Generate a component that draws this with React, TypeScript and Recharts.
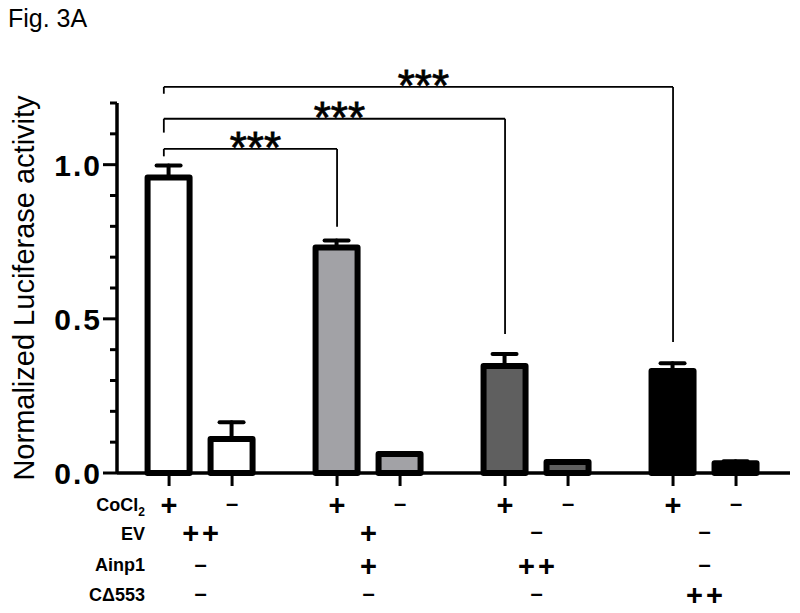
import React from "react";
import { BarChart, Bar, XAxis, YAxis, Cell, ErrorBar, ReferenceLine } from "recharts";

// bar positions on the x scale (pairs 3 apart, groups 8 apart)
const positions = [0, 3, 8, 11, 16, 19, 24, 27];
const values = [0.958, 0.11, 0.731, 0.062, 0.347, 0.036, 0.331, 0.032];
const errors = [0.039, 0.055, 0.023, 0, 0.039, 0, 0.025, 0.006];
const fills = ["#ffffff", "#ffffff", "#a2a2a6", "#a2a2a6", "#5f5f5f", "#5f5f5f", "#000000", "#000000"];

// treatment table under the axis
const cocl2Row = ["+", "–", "+", "–", "+", "–", "+", "–"];
const groupCenters = [1.5, 9.5, 17.5, 25.5];
const evRow = ["++", "+", "–", "–"];
const ainp1Row = ["–", "+", "++", "–"];
const cd553Row = ["–", "–", "–", "++"];
const LABEL_X = -1.15;

const yTicks = [0, 0.1, 0.2, 0.3, 0.4, 0.5, 0.6, 0.7, 0.8, 0.9, 1.0, 1.1, 1.2];
const yLabels = [0, 0.5, 1.0];

// significance brackets
const brackets = [
  { x1: -0.25, x2: 8, y: 1.051, yLeft: 1.027, yRight: 0.799 },
  { x1: -0.25, x2: 16, y: 1.149, yLeft: 1.104, yRight: 0.451 },
  { x1: -0.25, x2: 24, y: 1.252, yLeft: 1.23, yRight: 0.425 },
];

const data = positions.map((x, i) => ({ x, value: values[i], err: [0, errors[i]] }));

const FONT = "'Liberation Sans', Arial, sans-serif";

function Sym({ x, cy, s }: { x: number; cy: number; s: string }) {
  if (s === "–") {
    return (
      <text x={x} y={cy + 6} textAnchor="middle" fontSize={22} fontWeight="bold" fontFamily={FONT} fill="#000">
        –
      </text>
    );
  }
  const wide = s.length > 1;
  return (
    <text x={wide ? x + 1.5 : x} y={cy + 10} textAnchor="middle" fontSize={29} fontWeight="bold" fontFamily={FONT} fill="#000" letterSpacing={wide ? 3 : 0}>
      {s}
    </text>
  );
}

function XTick({ x, y, payload }: any) {
  const v = payload.value;
  const bi = positions.indexOf(v);
  if (bi >= 0) {
    return (
      <g>
        <line x1={x} x2={x} y1={y} y2={y + 13} stroke="#000" strokeWidth={3} />
        <Sym x={x} cy={y + 32} s={cocl2Row[bi]} />
      </g>
    );
  }
  const gi = groupCenters.indexOf(v);
  if (gi >= 0) {
    return (
      <g>
        <Sym x={x} cy={y + 60} s={evRow[gi]} />
        <Sym x={x} cy={y + 93} s={ainp1Row[gi]} />
        <Sym x={x} cy={y + 122} s={cd553Row[gi]} />
      </g>
    );
  }
  const style = { fontSize: 18, fontWeight: "bold" as const, fontFamily: FONT, fill: "#000" };
  return (
    <g>
      <text x={x} y={y + 38} textAnchor="end" {...style}>
        CoCl<tspan fontSize={12} dy={5}>2</tspan>
      </text>
      <text x={x} y={y + 67} textAnchor="end" {...style}>EV</text>
      <text x={x} y={y + 98} textAnchor="end" {...style}>Ainp1</text>
      <text x={x} y={y + 128} textAnchor="end" {...style}>CΔ553</text>
    </g>
  );
}

function YTick({ x, y, payload }: any) {
  const major = yLabels.includes(payload.value);
  return (
    <g>
      <line x1={x - (major ? 14 : 7)} x2={x} y1={y} y2={y} stroke="#000" strokeWidth={3} />
      {major && (
        <text x={x - 15} y={y + 11} textAnchor="end" fontSize={30} fontWeight="bold" fontFamily={FONT} fill="#000" letterSpacing={2}>
          {payload.value.toFixed(1)}
        </text>
      )}
    </g>
  );
}

function YTitle({ viewBox }: any) {
  const cx = 24;
  const cy = viewBox.y + viewBox.height / 2;
  return (
    <text x={cx} y={cy} transform={`rotate(-90 ${cx} ${cy})`} textAnchor="middle" dominantBaseline="central" fontSize={29} fontFamily={FONT} fill="#000">
      Normalized Luciferase activity
    </text>
  );
}

function Stars({ viewBox }: any) {
  return (
    <text x={viewBox.x + viewBox.width / 2 + 5} y={viewBox.y + 14} textAnchor="middle" fontSize={44} fontFamily={FONT} fill="#000" stroke="#000" strokeWidth={0.8}>
      ***
    </text>
  );
}

export default function App() {
  return (
    <div style={{ position: "absolute", left: 0, top: 0, width: 800, height: 613, background: "#fff" }}>
      <div style={{ position: "absolute", left: 8, top: 6, fontSize: 25, lineHeight: "25px", fontFamily: FONT, color: "#000" }}>
        Fig. 3A
      </div>
      <BarChart width={800} height={613} data={data} margin={{ top: 103, right: 10, bottom: 0, left: 0 }}>
        <XAxis
          dataKey="x"
          type="number"
          domain={[-2.48, 29.57]}
          ticks={[LABEL_X, ...positions, ...groupCenters]}
          interval={0}
          tickSize={0}
          tickMargin={0}
          tickLine={false}
          tick={<XTick />}
          axisLine={{ stroke: "#000", strokeWidth: 3.5 }}
          height={140}
        />
        <YAxis
          type="number"
          domain={[0, 1.2]}
          ticks={yTicks}
          interval={0}
          tickSize={0}
          tickMargin={0}
          tickLine={false}
          tick={<YTick />}
          axisLine={{ stroke: "#000", strokeWidth: 3.5 }}
          width={117}
          label={<YTitle />}
        />
        {brackets.map((b, i) => (
          <ReferenceLine key={`h${i}`} segment={[{ x: b.x1, y: b.y }, { x: b.x2, y: b.y }]} stroke="#000" strokeWidth={1.8} ifOverflow="visible" label={<Stars />} />
        ))}
        {brackets.map((b, i) => (
          <ReferenceLine key={`l${i}`} segment={[{ x: b.x1, y: b.yLeft }, { x: b.x1, y: b.y }]} stroke="#000" strokeWidth={1.8} ifOverflow="visible" />
        ))}
        {brackets.map((b, i) => (
          <ReferenceLine key={`r${i}`} segment={[{ x: b.x2, y: b.yRight }, { x: b.x2, y: b.y }]} stroke="#000" strokeWidth={1.8} ifOverflow="visible" />
        ))}
        <Bar dataKey="value" barSize={42} stroke="#000" strokeWidth={6} strokeLinejoin="round" isAnimationActive={false}>
          {data.map((_, i) => (
            <Cell key={i} fill={fills[i]} />
          ))}
          <ErrorBar dataKey="err" width={12} stroke="#000" strokeWidth={4} strokeLinecap="round" isAnimationActive={false} />
        </Bar>
      </BarChart>
    </div>
  );
}
